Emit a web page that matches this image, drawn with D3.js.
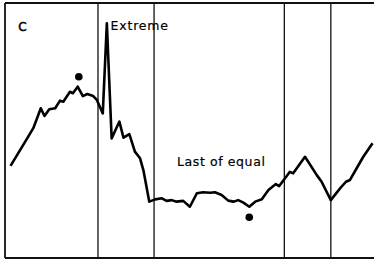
<!DOCTYPE html>
<html>
<head>
<meta charset="utf-8">
<script src="https://cdn.jsdelivr.net/npm/d3@7"></script>
<style>
  body { margin: 0; background: #fff; }
  svg { display: block; }
</style>
</head>
<body>
<script>
let w = 374;
let h = 260;

// trace (x: 0-100 across, y: 0-100 up)
let traceX = [1.5, 6.3, 7.7, 9.7, 10.7, 12.0, 13.6, 14.9, 15.8, 17.6, 18.4, 19.7, 21.1, 22.3, 23.9, 24.9,
  26.5, 27.6, 28.9, 31.0, 32.1, 33.7, 35.2, 36.6, 37.5, 39.1, 40.7, 42.5, 43.8, 45.2, 46.5, 48.3,
  50.1, 52.0, 53.7, 55.6, 56.9, 58.7, 60.5, 61.9, 63.2, 64.6, 66.2, 67.8, 69.6, 71.4, 73.4, 74.3,
  75.9, 77.2, 78.1, 81.3, 84.5, 85.8, 88.3, 90.8, 92.4, 93.5, 95.3, 97.1, 99.6];
let traceY = [36.1, 47.6, 51.0, 58.7, 55.7, 58.3, 58.7, 61.7, 61.3, 65.2, 64.6, 67.2, 63.5, 64.3, 63.5, 62.0,
  56.7, 92.0, 46.9, 53.5, 47.2, 48.6, 41.7, 39.1, 34.5, 22.1, 23.0, 23.4, 22.4, 22.7, 22.1, 22.4,
  20.1, 25.4, 25.8, 25.6, 25.8, 24.7, 22.5, 22.1, 22.7, 21.7, 20.1, 22.1, 23.0, 26.7, 29.0, 28.2,
  31.3, 33.8, 33.2, 39.7, 32.5, 29.9, 22.7, 27.3, 29.9, 30.6, 35.2, 39.7, 45.0];

let dotX = [20.0, 66.2];
let dotY = [71.1, 16.0];

let dividers = [25.2, 40.4, 75.7, 88.3];

let labels = ["C", "Extreme", "Last of equal"];
let labelX = [3.6, 28.6, 46.6];
let labelY = [89.0, 89.4, 36.0];

let svg = d3.select("body")
  .append("svg")
  .attr("width", w)
  .attr("height", h);

let xScale = d3.scaleLinear().domain([0, 100]).range([5, 374]);
let yScale = d3.scaleLinear().domain([0, 100]).range([258, 3]);

// frame: top, left, bottom (right side is cut off)
let frame = [[[0, 100], [100, 100]], [[0, 0], [0, 100]], [[0, 0], [100, 0]]];
let lineGen = d3.line().x(d => xScale(d[0])).y(d => yScale(d[1]));
svg.selectAll(".frame")
  .data(frame)
  .enter()
  .append("path")
  .attr("class", "frame")
  .attr("d", lineGen)
  .attr("stroke", "#111")
  .attr("stroke-width", 1.8)
  .attr("fill", "none");

svg.selectAll(".divider")
  .data(dividers)
  .enter()
  .append("line")
  .attr("class", "divider")
  .attr("x1", d => xScale(d))
  .attr("x2", d => xScale(d))
  .attr("y1", yScale(100))
  .attr("y2", yScale(0))
  .attr("stroke", "#111")
  .attr("stroke-width", 1.3);

let pts = traceX.map((d, i) => [d, traceY[i]]);
svg.append("path")
  .attr("d", lineGen(pts))
  .attr("stroke", "#000")
  .attr("stroke-width", 2.6)
  .attr("stroke-linejoin", "round")
  .attr("fill", "none");

svg.selectAll(".dot")
  .data(dotX)
  .enter()
  .append("circle")
  .attr("class", "dot")
  .attr("cx", d => xScale(d))
  .attr("cy", (d, i) => yScale(dotY[i]))
  .attr("r", 3.8)
  .attr("fill", "#000");

// text looks a touch heavier in the scan, so give it a thin stroke
svg.selectAll(".label")
  .data(labels)
  .enter()
  .append("text")
  .attr("class", "label")
  .text(d => d)
  .attr("x", (d, i) => xScale(labelX[i]))
  .attr("y", (d, i) => yScale(labelY[i]))
  .attr("font-family", "DejaVu Sans")
  .attr("font-size", (d, i) => i == 0 ? "12px" : "12.5px")
  .attr("letter-spacing", (d, i) => i == 2 ? "0.6px" : "0.8px")
  .attr("fill", "#000")
  .attr("stroke", "#000")
  .attr("stroke-width", (d, i) => i == 0 ? 0.5 : 0.2);
</script>
</body>
</html>
